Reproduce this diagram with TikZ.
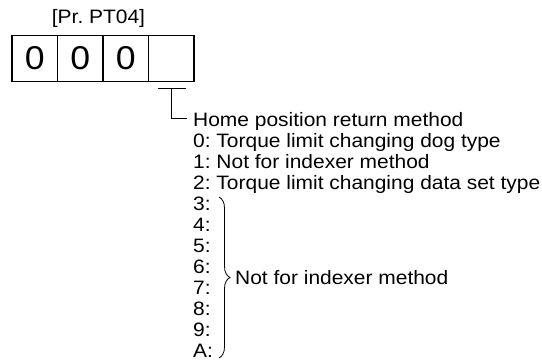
\documentclass[tikz,border=0pt]{standalone}
\usepackage{fontspec}
\newfontfamily\manualfont{Liberation Sans}[FakeStretch=1.08]
\frenchspacing
\usepackage{tikz}
\usetikzlibrary{positioning,decorations.pathreplacing}

\begin{document}
\begin{tikzpicture}[
    x=1pt, y=-1pt,
    cell/.style={draw, line width=1.1pt, minimum width=45.5pt, minimum height=46pt, inner sep=0pt, outer sep=0pt, font=\manualfont\fontsize{33}{33}\selectfont},
    listline/.style={anchor=base west, inner sep=0pt, font=\manualfont\fontsize{19.4}{21}\selectfont},
    conn/.style={draw, line width=1pt}
]
\useasboundingbox (0,0) rectangle (542,363);
\node[listline, anchor=base] (title) at (98.5,23.5) {[Pr. PT04]};
\node[cell] (c1) at (34.75,58.5) {0};
\node[cell, right=0pt of c1] (c2) {0};
\node[cell, right=0pt of c2] (c3) {0};
\node[cell, right=0pt of c3] (c4) {};
\foreach \txt [count=\i from 0] in {Home position return method, 0: Torque limit changing dog type, 1: Not for indexer method, 2: Torque limit changing data set type, 3:, 4:, 5:, 6:, 7:, 8:, 9:, A:}
    \node[listline] (l\i) at (193,{127+21*\i}) {\txt};
\coordinate (tl) at (158,89);
\coordinate (tr) at (186,89);
\coordinate (lend) at (187,119);
\draw[conn] (tl) -- (tr) (tl -| c4.south) |- (lend);
\coordinate (bt) at (219,197);
\coordinate (bb) at (219,358);
\draw[conn, line width=0.8pt, decorate, decoration={brace, amplitude=11pt}] (bt) -- (bb);
\node[listline] (nfi) at (235,284.5) {Not for indexer method};
\end{tikzpicture}
\end{document}
